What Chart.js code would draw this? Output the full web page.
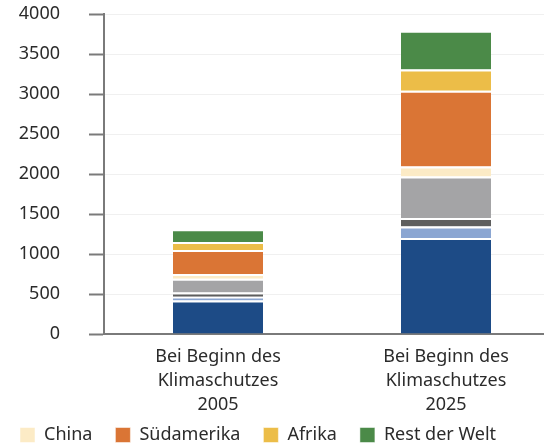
<!DOCTYPE html>
<html>
<head>
<meta charset="utf-8">
<script src="https://cdn.jsdelivr.net/npm/chart.js@4"></script>
<style>
  html, body { margin: 0; padding: 0; background: #fff; overflow: hidden; }
  #wrap { position: absolute; left: 11px; top: 0; width: 549px; height: 448px; }
</style>
</head>
<body>
<div id="wrap"><canvas id="myChart"></canvas></div>
<script>
const categories = [
    ['Bei Beginn des', 'Klimaschutzes', '2005'],
    ['Bei Beginn des', 'Klimaschutzes', '2025']
];
const yTicks = [0, 500, 1000, 1500, 2000, 2500, 3000, 3500, 4000];

// stacked from bottom to top
const serie1 = [420, 1200];
const serie2 = [45, 145];
const serie3 = [55, 105];
const serie4 = [170, 520];
const china = [60, 125];
const suedamerika = [300, 945];
const afrika = [100, 265];
const restDerWelt = [160, 485];

// only the upper four series are in the visible legend
const firstInLegend = 4;

function seg(label, data, color) {
    return {
        label: label,
        data: data,
        backgroundColor: color,
        borderColor: '#ffffff',
        borderWidth: { top: 2, bottom: 0, left: 0, right: 0 },
        borderSkipped: false,
        categoryPercentage: 1,
        barPercentage: 0.395
    };
}

const ctx = document.getElementById('myChart');
const myChart = new Chart(ctx, {
    type: 'bar',
    data: {
        labels: categories,
        datasets: [
            seg('Serie 1', serie1, '#1d4b86'),
            seg('Serie 2', serie2, '#8ba6d2'),
            seg('Serie 3', serie3, '#5e5e5e'),
            seg('Serie 4', serie4, '#a4a4a6'),
            seg('China', china, '#fcebc6'),
            seg('Südamerika', suedamerika, '#da7535'),
            seg('Afrika', afrika, '#ecbd48'),
            seg('Rest der Welt', restDerWelt, '#4b8a48')
        ]
    },
    options: {
        responsive: true,
        maintainAspectRatio: false,
        animation: false,
        layout: {
            padding: { top: 14, left: 0, right: 0, bottom: -6 }
        },
        scales: {
            x: {
                stacked: true,
                afterFit: s => { s.height = 83; },
                grid: { display: false, drawTicks: false },
                border: { display: true, color: '#7a7a7a', width: 2 },
                ticks: {
                    color: '#2b2b2b',
                    padding: 11,
                    font: { family: "'Noto Sans', sans-serif", size: 18, lineHeight: 1.33 },
                    maxRotation: 0
                }
            },
            y: {
                stacked: true,
                min: 0,
                max: 4000,
                afterBuildTicks: s => { s.ticks = yTicks.map(v => ({ value: v })); },
                afterFit: s => {
                    s.width = 93;
                    s.paddingTop = 0;
                    s.paddingBottom = 0;
                },
                grid: {
                    color: '#f0f0f0',
                    tickColor: '#7a7a7a',
                    tickLength: 15,
                    tickWidth: 2
                },
                border: { display: true, color: '#7a7a7a', width: 2 },
                ticks: {
                    color: '#2b2b2b',
                    padding: 29,
                    callback: v => String(v),
                    font: { family: "'Noto Sans', sans-serif", size: 18 }
                }
            }
        },
        plugins: {
            tooltip: { enabled: false },
            legend: {
                position: 'bottom',
                align: 'start',
                labels: {
                    generateLabels: chart => {
                        const items = Chart.defaults.plugins.legend.labels.generateLabels(chart);
                        return items.map(it => Object.assign(it, { text: it.text + '   ' }));
                    },
                    filter: item => item.datasetIndex >= firstInLegend,
                    boxWidth: 15,
                    boxHeight: 15,
                    padding: 9,
                    color: '#2b2b2b',
                    font: { family: "'Noto Sans', sans-serif", size: 18 }
                }
            }
        }
    }
});
</script>
</body>
</html>
